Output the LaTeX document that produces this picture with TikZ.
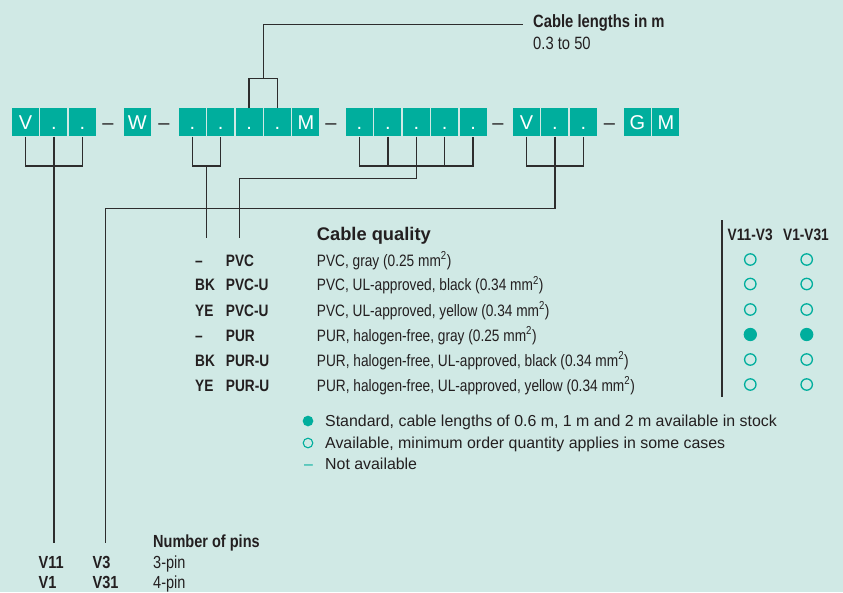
\documentclass[tikz,border=0pt]{standalone}
\usepackage{fontspec}
\setmainfont{Liberation Sans}[FakeStretch=0.83]
\newfontfamily\widefont{Liberation Sans}
\usepackage{xcolor}
\usetikzlibrary{positioning,calc}

\definecolor{bgmint}{RGB}{208,233,229}
\definecolor{codeteal}{RGB}{0,174,157}
\definecolor{inkdark}{RGB}{35,31,32}
\definecolor{linedark}{RGB}{45,45,45}

\newcommand{\boxletters}{\widefont\fontsize{20pt}{24pt}\selectfont}
\newcommand{\lenfont}{\fontsize{17.8pt}{21pt}\selectfont}
\newcommand{\qualfont}{\fontsize{16.5pt}{19pt}\selectfont}
\newcommand{\qualhead}{\widefont\fontsize{18.3pt}{22pt}\selectfont\bfseries}
\newcommand{\legfont}{\widefont\fontsize{15.9pt}{19pt}\selectfont}
\newcommand{\pinfont}{\fontsize{17.5pt}{21pt}\selectfont}

\begin{document}
\begin{tikzpicture}[
  x=1pt, y=-1pt,
  node distance=1pt,
  codebox/.style={fill=codeteal, text=white, font=\boxletters, minimum width=27pt, minimum height=28pt, inner sep=0pt, text height=14.3pt, text depth=0pt},
  sep/.style={text=inkdark, font=\boxletters, inner sep=0pt, text height=14.3pt, text depth=0pt},
  link/.style={draw=linedark, line width=1.3pt},
  txt/.style={anchor=base west, inner sep=0pt, text=inkdark},
  lentitle/.style={txt, font=\lenfont\bfseries},
  lentext/.style={txt, font=\lenfont},
  qualbold/.style={txt, font=\qualfont\bfseries},
  qualtext/.style={txt, font=\qualfont},
  colhead/.style={txt, anchor=base, font=\qualfont\bfseries},
  legtext/.style={txt, font=\legfont},
  pinbold/.style={txt, font=\pinfont\bfseries},
  pintext/.style={txt, font=\pinfont},
  avail/.style={circle, draw=codeteal, line width=1.3pt, minimum size=11.4pt, inner sep=0pt},
  stdmark/.style={circle, fill=codeteal, minimum size=13.3pt, inner sep=0pt}
]
\useasboundingbox (0,0) rectangle (843,592);
\fill[bgmint] (0,0) rectangle (843,592);

% type code boxes
\node[codebox] (v1) at (25.5,122.3) {V};
\node[codebox, right=of v1] (v2) {.};
\node[codebox, right=of v2] (v3) {.};
\node[sep] (s1) at (108,122.3) {–};
\node[codebox] (w) at (137.3,122.3) {W};
\node[sep] (s2) at (164,122.3) {–};
\node[codebox] (c1) at (192.3,122.3) {.};
\node[codebox, right=of c1] (c2) {.};
\node[codebox, right=of c2] (c3) {.};
\node[codebox, right=of c3] (c4) {.};
\node[codebox, right=of c4] (c5) {M};
\node[sep] (s3) at (331,122.3) {–};
\node[codebox] (d1) at (359.5,122.3) {.};
\node[codebox, right=of d1] (d2) {.};
\node[codebox, right=of d2] (d3) {.};
\node[codebox, right=of d3] (d4) {.};
\node[codebox, right=of d4] (d5) {.};
\node[sep] (s4) at (498,122.3) {–};
\node[codebox] (e1) at (526.5,122.3) {V};
\node[codebox, right=of e1] (e2) {.};
\node[codebox, right=of e2] (e3) {.};
\node[sep] (s5) at (609.5,122.3) {–};
\node[codebox] (g1) at (637.5,122.3) {G};
\node[codebox, right=of g1] (g2) {M};

% levels and free ends
\coordinate (lvlTop) at (0,78.7);
\coordinate (lvlA) at (0,166);
\coordinate (lvlB) at (0,178.7);
\coordinate (lvlC) at (0,208.3);
\coordinate (qualLvl) at (0,238);
\coordinate (pinLvl) at (0,543);
\coordinate (qualEnd) at (239.3,238);
\coordinate (pinEnd) at (105.5,543);
\coordinate (mid2) at ($(c1.south)!.5!(c2.south)$);
\coordinate (mid3) at ($(c3.north)!.5!(c4.north)$);

% cable length
\node[lentitle] (lenhead) at (533,27) {Cable lengths in m};
\node[lentext] (lenrange) at (533,49.3) {0.3 to 50};
\draw[link] (c3.north) |- (lvlTop -| c4.north) -- (c4.north);
\draw[link] (mid3 |- lvlTop) |- ([xshift=-9.7pt,yshift=2.7pt]lenhead.base west);

% brackets below
\draw[link] (v1.south) |- (lvlA -| v3.south) -- (v3.south);
\draw[link] (v2.south) -- (v2.south |- pinLvl);
\draw[link] (c1.south) |- (lvlA -| c2.south) -- (c2.south);
\draw[link] (mid2 |- lvlA) -- (mid2 |- qualLvl);
\draw[link] (d1.south) |- (lvlA -| d5.south) -- (d5.south);
\draw[link] (d2.south) -- (d2.south |- lvlA);
\draw[link] (d4.south) -- (d4.south |- lvlA);
\draw[link] (d3.south) |- (lvlB -| qualEnd) -- (qualEnd);
\draw[link] (e1.south) |- (lvlA -| e3.south) -- (e3.south);
\draw[link] (e2.south) |- (lvlC -| pinEnd) -- (pinEnd);

% cable quality
\node[txt, font=\qualhead] (qualtitle) at (316.7,240.5) {Cable quality};
\node[qualbold] (q1a) at (195,266) {–};
\node[qualbold] (q1b) at (225.7,266) {PVC};
\node[qualtext] (q1c) at (316.7,266) {PVC, gray (0.25 mm\textsuperscript{2})};
\node[qualbold] (q2a) at (195,290.5) {BK};
\node[qualbold] (q2b) at (225.7,290.5) {PVC-U};
\node[qualtext] (q2c) at (316.7,290.5) {PVC, UL-approved, black (0.34 mm\textsuperscript{2})};
\node[qualbold] (q3a) at (195,316) {YE};
\node[qualbold] (q3b) at (225.7,316) {PVC-U};
\node[qualtext] (q3c) at (316.7,316) {PVC, UL-approved, yellow (0.34 mm\textsuperscript{2})};
\node[qualbold] (q4a) at (195,341) {–};
\node[qualbold] (q4b) at (225.7,341) {PUR};
\node[qualtext] (q4c) at (316.7,341) {PUR, halogen-free, gray (0.25 mm\textsuperscript{2})};
\node[qualbold] (q5a) at (195,366) {BK};
\node[qualbold] (q5b) at (225.7,366) {PUR-U};
\node[qualtext] (q5c) at (316.7,366) {PUR, halogen-free, UL-approved, black (0.34 mm\textsuperscript{2})};
\node[qualbold] (q6a) at (195,391) {YE};
\node[qualbold] (q6b) at (225.7,391) {PUR-U};
\node[qualtext] (q6c) at (316.7,391) {PUR, halogen-free, UL-approved, yellow (0.34 mm\textsuperscript{2})};

% availability columns
\coordinate (divTop) at (722,220);
\coordinate (divBot) at (722,397);
\draw[link] (divTop) -- (divBot);
\node[colhead] (colA) at (750.2,240.5) {V11-V3};
\node[colhead] (colB) at (806,240.5) {V1-V31};
\node[avail] (a1) at (750.3,259.5) {};
\node[avail] (b1) at (806.7,259.5) {};
\node[avail] (a2) at (750.3,284) {};
\node[avail] (b2) at (806.7,284) {};
\node[avail] (a3) at (750.3,309.5) {};
\node[avail] (b3) at (806.7,309.5) {};
\node[stdmark] (a4) at (750.3,334.5) {};
\node[stdmark] (b4) at (806.7,334.5) {};
\node[avail] (a5) at (750.3,359.5) {};
\node[avail] (b5) at (806.7,359.5) {};
\node[avail] (a6) at (750.3,384.5) {};
\node[avail] (b6) at (806.7,384.5) {};

% legend
\node[stdmark, minimum size=10.7pt] (lgstdmark) at (308,421) {};
\node[legtext] (lgstd) at (325,426) {Standard, cable lengths of 0.6 m, 1 m and 2 m available in stock};
\node[avail, minimum size=9.6pt, line width=1.1pt] (lgavailmark) at (308,443) {};
\node[legtext] (lgavail) at (325,448) {Available, minimum order quantity applies in some cases};
\node[legtext, anchor=base, text=codeteal] (lgdash) at (308.5,469) {–};
\node[legtext] (lgnot) at (325,469) {Not available};

% number of pins
\node[pinbold] (pinhead) at (153,547) {Number of pins};
\node[pinbold] (pV11) at (38.5,568) {V11};
\node[pinbold] (pV3) at (92.5,568) {V3};
\node[pintext] (p3) at (153,568) {3-pin};
\node[pinbold] (pV1) at (38.5,588.3) {V1};
\node[pinbold] (pV31) at (92.5,588.3) {V31};
\node[pintext] (p4) at (153,588.3) {4-pin};
\end{tikzpicture}
\end{document}
